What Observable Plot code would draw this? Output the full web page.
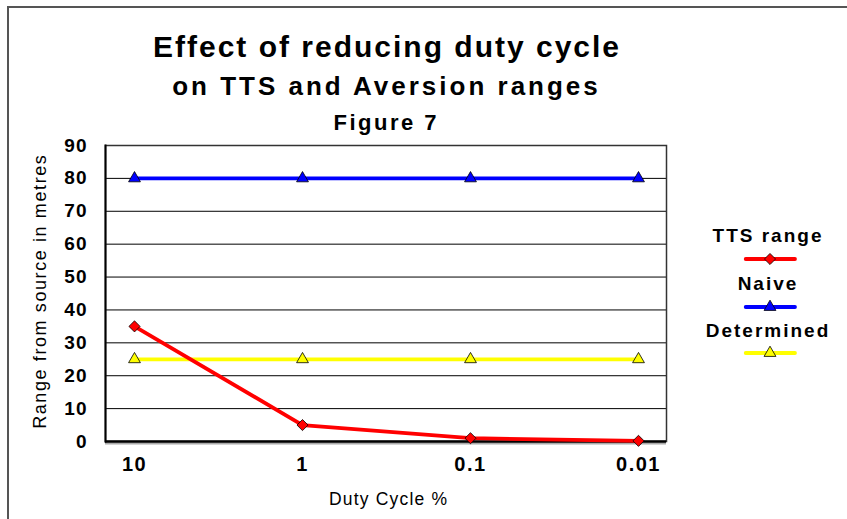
<!DOCTYPE html>
<html>
<head>
<meta charset="utf-8">
<script src="https://cdn.jsdelivr.net/npm/d3@7"></script>
<script src="https://cdn.jsdelivr.net/npm/@observablehq/plot@0.6"></script>
<style>
  html, body { margin: 0; padding: 0; background: #fff; overflow: hidden; }
  #wrap { position: relative; width: 847px; height: 519px; overflow: hidden; font-family: "Liberation Sans", Arial, sans-serif; color: #000; }
  #border { position: absolute; left: 7px; top: 6px; width: 900px; height: 600px; border: 2px solid #555; box-sizing: border-box; }
  .t { position: absolute; white-space: nowrap; line-height: 1; }
  #chart { position: absolute; left: 0; top: 0; }
  #chart svg g[aria-label="x-axis tick label"] text { font-weight: bold; letter-spacing: 1.5px; }
  #chart svg g[aria-label="y-axis tick label"] text { font-weight: bold; letter-spacing: 1px; }
</style>
</head>
<body>
<div id="wrap">
  <div id="border"></div>
  <div id="chart"></div>
</div>
<script>
// ---- data ----
const categories = ["10", "1", "0.1", "0.01"];
const ttsRange = [35, 5, 1, 0.2];
const naive = [80, 80, 80, 80];
const determined = [25, 25, 25, 25];
const yTicks = [0, 10, 20, 30, 40, 50, 60, 70, 80, 90];
const seriesNames = ["TTS range", "Naive", "Determined"];
const seriesColors = ["#ff0000", "#0000ff", "#ffff00"];
const seriesSymbols = ["diamond2", "triangle", "triangle"];
const titleLines = ["Effect of reducing duty cycle", "on TTS and Aversion ranges", "Figure 7"];
const xLabel = "Duty Cycle %";
const yLabel = "Range from source in metres";

const seriesValues = [ttsRange, naive, determined];
const rows = [];
seriesNames.forEach((s, i) => categories.forEach((c, j) => rows.push({series: s, cat: c, value: seriesValues[i][j]})));

const drawOrder = [2, 1, 0];
const lineMarks = drawOrder.map(i => Plot.line(rows.filter(r => r.series === seriesNames[i]), {
  x: "cat", y: "value", stroke: seriesColors[i], strokeWidth: 3.8
}));
const dotMarks = drawOrder.map(i => Plot.dot(rows.filter(r => r.series === seriesNames[i]), {
  x: "cat", y: "value", symbol: () => seriesSymbols[i], fill: seriesColors[i], stroke: "#000", strokeWidth: 0.8,
  r: i === 0 ? 5 : 4.4
}));

const chart = Plot.plot({
  width: 847, height: 519,
  marginLeft: 105, marginRight: 181, marginTop: 145, marginBottom: 78,
  style: {fontFamily: "'Liberation Sans', Arial, sans-serif", background: "transparent", color: "#000", overflow: "visible"},
  x: {type: "point", domain: categories, padding: 0.16},
  y: {domain: [0, 90]},
  symbol: {type: "identity"},
  marks: [
    Plot.ruleY(yTicks.filter(d => d > 0 && d < 90), {stroke: "#000", strokeWidth: 1}),
    Plot.frame({stroke: "#333", strokeWidth: 1.5}),
    Plot.ruleY([0], {stroke: "#aaa", strokeWidth: 2, dy: 2}),
    Plot.ruleY([0], {stroke: "#000", strokeWidth: 2.5}),
    Plot.frame({anchor: "left", stroke: "#000", strokeWidth: 2}),
    ...lineMarks,
    ...dotMarks,
    Plot.axisX({tickSize: 0, tickPadding: 15, fontSize: 20, label: null}),
    Plot.axisY({ticks: yTicks, tickSize: 0, tickPadding: 18, fontSize: 19, label: null})
  ]
});
document.getElementById("chart").appendChild(chart);

// ---- text (titles, axis titles) ----
const wrap = document.getElementById("wrap");
function addText(txt, {cx, baseline, size, weight = "normal", ls = 0}) {
  const d = document.createElement("div");
  d.className = "t";
  d.textContent = txt;
  d.style.fontSize = size + "px";
  d.style.fontWeight = weight;
  d.style.letterSpacing = ls + "px";
  d.style.paddingLeft = ls + "px";
  d.style.top = (baseline - 0.8465 * size) + "px";
  wrap.appendChild(d);
  const w = d.getBoundingClientRect().width;
  d.style.left = (cx - w / 2) + "px";
  return d;
}
addText(titleLines[0], {cx: 386, baseline: 57, size: 30, weight: "bold", ls: 2});
addText(titleLines[1], {cx: 385, baseline: 95, size: 26, weight: "bold", ls: 3});
addText(titleLines[2], {cx: 385, baseline: 131, size: 22, weight: "bold", ls: 2.5});
addText(xLabel, {cx: 388, baseline: 506, size: 17.5, ls: 1.2});

// rotated y label
const yl = document.createElement("div");
yl.className = "t";
yl.textContent = yLabel;
yl.style.fontSize = "18px";
yl.style.letterSpacing = "1.6px";
yl.style.paddingLeft = "1.6px";
wrap.appendChild(yl);
const ylw = yl.getBoundingClientRect().width, ylh = yl.getBoundingClientRect().height;
yl.style.left = (40 - ylw / 2) + "px";
yl.style.top = (292 - ylh / 2) + "px";
yl.style.transform = "rotate(-90deg)";

// ---- legend ----
const legendBaselines = [241.7, 290, 336.7];
const legendLineY = [259.3, 306.7, 353.3];
seriesNames.forEach((s, i) => {
  addText(s, {cx: 767, baseline: legendBaselines[i], size: 19, weight: "bold", ls: 2});
  const svg = d3.select(wrap).append("svg")
    .style("position", "absolute").style("left", "740px").style("top", (legendLineY[i] - 10) + "px")
    .attr("width", 60).attr("height", 20);
  svg.append("line").attr("x1", 5.7).attr("x2", 55).attr("y1", 10).attr("y2", 10)
    .attr("stroke", seriesColors[i]).attr("stroke-width", 3.8).attr("stroke-linecap", "round");
  const r = i === 0 ? 5 : 4.4;
  const sym = i === 0 ? d3.symbolDiamond2 : d3.symbolTriangle;
  svg.append("path").attr("transform", "translate(30,10)")
    .attr("d", d3.symbol(sym, Math.PI * r * r)())
    .attr("fill", seriesColors[i]).attr("stroke", "#000").attr("stroke-width", 0.8);
});
</script>
</body>
</html>
